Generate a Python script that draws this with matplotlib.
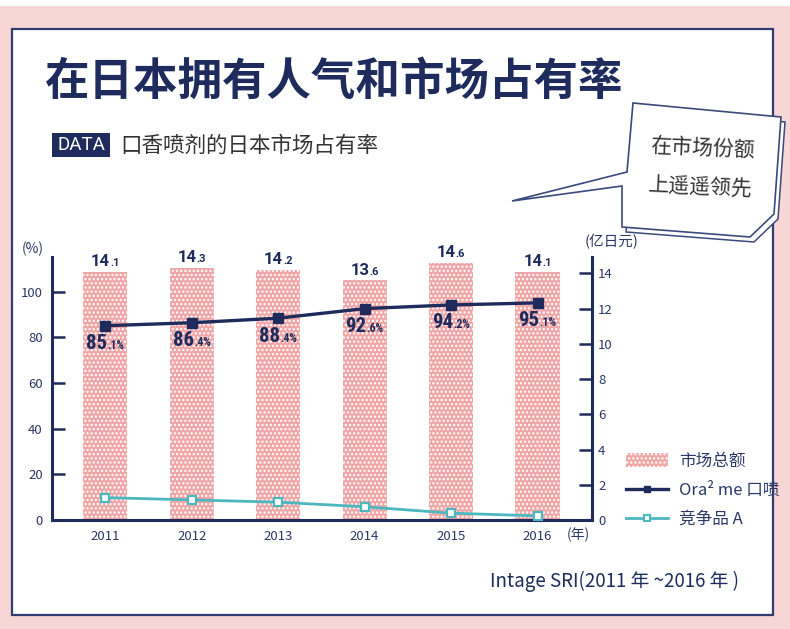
import matplotlib
matplotlib.use("Agg")
import matplotlib.pyplot as plt
import matplotlib.patches as mpatches
from matplotlib.lines import Line2D
from matplotlib import font_manager
from matplotlib.offsetbox import TextArea, HPacker, AnnotationBbox

plt.rcParams["font.family"] = ["Noto Sans CJK SC", "DejaVu Sans"]
plt.rcParams["hatch.linewidth"] = 1.1

# ---- data ----
years = ["2011", "2012", "2013", "2014", "2015", "2016"]
market_total = [14.1, 14.3, 14.2, 13.6, 14.6, 14.1]      # 亿日元 (right axis)
ora2_share = [85.1, 86.4, 88.4, 92.6, 94.2, 95.1]        # % (left axis)
rival_share = [9.8, 8.8, 7.8, 5.8, 3.0, 1.8]             # % (left axis)
left_ticks = [0, 20, 40, 60, 80, 100]
right_ticks = [0, 2, 4, 6, 8, 10, 12, 14]

NAVY = "#1e2b5c"
TICK_TXT = "#2b3868"
TEAL = "#4db7c0"
PINK = "#f0a6a6"
BG_PINK = "#f8d6d6"
W, H = 790, 629

names = {f.name for f in font_manager.fontManager.ttflist}
narrow = next((n for n in ["Liberation Sans Narrow", "DejaVu Sans Condensed",
                           "Roboto Condensed", "Open Sans Condensed"] if n in names),
              "Roboto")

fig = plt.figure(figsize=(W / 100, H / 100), dpi=100)
fig.patch.set_facecolor(BG_PINK)

# background / decoration layer in pixel coordinates
bg = fig.add_axes([0, 0, 1, 1], zorder=0)
bg.set_xlim(0, W)
bg.set_ylim(H, 0)
bg.axis("off")
bg.add_patch(mpatches.Rectangle((0, 0), W, 6, facecolor="white", edgecolor="none"))
bg.add_patch(mpatches.Rectangle((12, 29), 761, 586, facecolor="white",
                                edgecolor="#2f3d70", lw=1.6))

bg.text(45, 82, "在日本拥有人气和市场占有率", fontsize=32, fontweight="bold",
        color=NAVY, va="center", ha="left")
bg.add_patch(mpatches.Rectangle((52, 133), 58, 24, facecolor=NAVY, edgecolor="none"))
bg.text(81, 145.5, "DATA", color="white", fontsize=13.5, ha="center", va="center",
        family=["Roboto", "DejaVu Sans"])
bg.text(120, 146, "口香喷剂的日本市场占有率", fontsize=15.5, color="#333333",
        ha="left", va="center")

# speech bubble
bubble = [(633, 103), (781, 117), (774, 214), (750, 237), (622, 227),
          (622, 186), (512, 201), (627, 172)]
shadow = [(x + 4, y + 5) for x, y in bubble[:5]]
bg.add_patch(mpatches.Polygon(shadow, closed=True, facecolor="white",
                              edgecolor="#3b4a7c", lw=1.1))
bg.add_patch(mpatches.Polygon(bubble, closed=True, facecolor="white",
                              edgecolor="#3b4a7c", lw=1.2, joinstyle="miter"))
bg.text(703, 148, "在市场份额", fontsize=15, color="#333333", ha="center",
        va="center", rotation=-2.5)
bg.text(700, 188, "上遥遥领先", fontsize=15, color="#333333", ha="center",
        va="center", rotation=-2.5)

bg.text(490, 581, "Intage SRI(2011 年 ~2016 年 )", fontsize=13.5, color=NAVY,
        ha="left", va="center")

# ---- chart ----
ax = fig.add_axes([52.5 / W, 1 - 520 / H, (592 - 52.5) / W, (520 - 257) / H], zorder=2)
ax2 = ax.twinx()
ax.set_zorder(ax2.get_zorder() + 1)
ax.patch.set_visible(False)

x = list(range(len(years)))
ax2.bar(x, market_total, width=0.51, color=PINK, edgecolor="white", lw=0,
        hatch="....", zorder=1)

ax.plot(x, ora2_share, color=NAVY, lw=2.4, marker="s", ms=7, mfc=NAVY, mec=NAVY,
        zorder=3)
ax.plot(x, rival_share, color=TEAL, lw=2.0, marker="s", ms=6, mfc="white",
        mec=TEAL, mew=1.6, zorder=3)

ax.set_xlim(-0.61, 5.63)
ax.set_ylim(0, 115.2)
ax2.set_ylim(0, 14.93)
ax.set_yticks(left_ticks)
ax2.set_yticks(right_ticks)
ax.set_xticks(x)
ax.set_xticklabels(years)

for a in (ax, ax2):
    for s in a.spines.values():
        s.set_visible(False)
ax.spines["left"].set_visible(True)
ax.spines["bottom"].set_visible(True)
ax2.spines["right"].set_visible(True)
for s in (ax.spines["left"], ax.spines["bottom"], ax2.spines["right"]):
    s.set_color(NAVY)
    s.set_linewidth(2.2)

ax.tick_params(axis="y", direction="in", length=9.5, width=1.8, color=NAVY,
               labelcolor=TICK_TXT, labelsize=9.5, pad=7)
ax.tick_params(axis="x", length=0, labelcolor=TICK_TXT, labelsize=9.5, pad=7)
ax2.tick_params(axis="y", direction="in", length=9.5, width=1.8, color=NAVY,
                labelcolor=TICK_TXT, labelsize=9.5, pad=4.5)
for lab in ax.get_xticklabels() + ax.get_yticklabels() + ax2.get_yticklabels():
    lab.set_fontweight("medium")


def split_label(axis, xv, yv, big, small, bsize, ssize, fam, dy, valign, weight):
    t1 = TextArea(big, textprops=dict(fontsize=bsize, fontweight=weight,
                                      color=NAVY, family=fam))
    t2 = TextArea(small, textprops=dict(fontsize=ssize, fontweight=weight,
                                        color=NAVY, family=fam))
    box = HPacker(children=[t1, t2], align="baseline", pad=0, sep=0)
    ab = AnnotationBbox(box, (xv, yv), xycoords="data", xybox=(0, dy),
                        boxcoords="offset points", box_alignment=(0.5, valign),
                        frameon=False, zorder=5)
    axis.add_artist(ab)


for xi, v in zip(x, market_total):
    b, s = f"{v:.1f}".split(".")
    split_label(ax2, xi, v, b, "." + s, 12, 8, ["Roboto", "DejaVu Sans"], 2, 0, "bold")

for xi, v in zip(x, ora2_share):
    b, s = f"{v:.1f}".split(".")
    split_label(ax, xi, v, b, "." + s + "%", 15, 8.5, [narrow, "DejaVu Sans"], -6, 1, "bold")

# axis unit labels
ax.text(-0.036, 1.03, "(%)", transform=ax.transAxes, fontsize=10, color=TICK_TXT,
        ha="center", va="center")
ax2.text(1.037, 1.057, "(亿日元)", transform=ax2.transAxes, fontsize=10.5, color=TICK_TXT,
         ha="center", va="center", fontweight="medium")
ax2.text(0.975, -0.058, "(年)", transform=ax2.transAxes, fontsize=10, color=TICK_TXT,
         ha="center", va="center", fontweight="medium")

handles = [
    mpatches.Patch(facecolor=PINK, edgecolor="white", lw=0, hatch="...."),
    Line2D([], [], color=NAVY, lw=2.4, marker="s", ms=5, mfc=NAVY, mec=NAVY),
    Line2D([], [], color=TEAL, lw=2.0, marker="s", ms=5, mfc="white", mec=TEAL, mew=1.5),
]
labels = ["市场总额", "Ora² me 口喷", "竞争品 A"]
fig.legend(handles, labels, loc="upper left", bbox_to_anchor=(626 / W, 1 - 453 / H),
           frameon=False, fontsize=12, handlelength=2.5, handleheight=0.9,
           handletextpad=0.7, labelspacing=0.72, borderpad=0, borderaxespad=0,
           labelcolor=TICK_TXT)

fig.savefig("out.png", dpi=100, facecolor=fig.get_facecolor())
